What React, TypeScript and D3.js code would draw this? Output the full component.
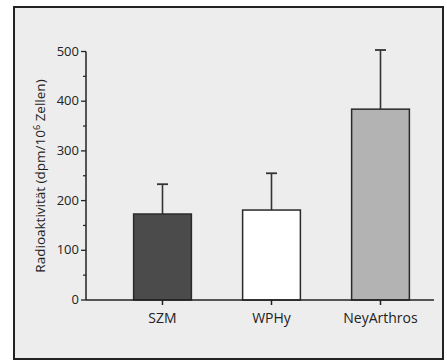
import React, { useEffect, useRef } from "react";
import * as d3 from "d3";

const categories = ["SZM", "WPHy", "NeyArthros"];
const means = [173, 181, 384];
const errors = [60, 74, 119];
const barColors = ["#4b4b4b", "#ffffff", "#b3b3b3"];
const yTicks = [0, 100, 200, 300, 400, 500];
const yMinorTicks = [50, 150, 250, 350, 450];

export default function App() {
  const svgRef = useRef<SVGSVGElement | null>(null);

  useEffect(() => {
    const svg = d3.select(svgRef.current);
    svg.selectAll("*").remove();

    const font = "'Open Sans', Lato, sans-serif";

    // page background + frame
    svg.append("rect").attr("width", 447).attr("height", 361).attr("fill", "#ffffff");
    svg
      .append("rect")
      .attr("x", 14)
      .attr("y", 7)
      .attr("width", 429)
      .attr("height", 352)
      .attr("fill", "#ededed")
      .attr("stroke", "#222")
      .attr("stroke-width", 2);

    const y = d3.scaleLinear().domain([0, 500]).range([300, 51.5]);
    const x = d3
      .scaleBand()
      .domain(categories)
      .range([108, 435])
      .paddingInner(0.47)
      .paddingOuter(0.235);

    const g = svg.append("g");

    // error bars (drawn first, bar covers lower part)
    categories.forEach((c, i) => {
      const cx = x(c)! + x.bandwidth() / 2;
      g.append("line")
        .attr("x1", cx)
        .attr("x2", cx)
        .attr("y1", y(means[i]))
        .attr("y2", y(means[i] + errors[i]))
        .attr("stroke", "#333")
        .attr("stroke-width", 1.6);
      g.append("line")
        .attr("x1", cx - 5.5)
        .attr("x2", cx + 5.5)
        .attr("y1", y(means[i] + errors[i]))
        .attr("y2", y(means[i] + errors[i]))
        .attr("stroke", "#333")
        .attr("stroke-width", 1.8);
    });

    g.selectAll(".bar")
      .data(categories)
      .enter()
      .append("rect")
      .attr("x", (c) => x(c)!)
      .attr("y", (c, i) => y(means[i]))
      .attr("width", x.bandwidth())
      .attr("height", (c, i) => y(0) - y(means[i]))
      .attr("fill", (c, i) => barColors[i])
      .attr("stroke", "#2a2a2a")
      .attr("stroke-width", 1.5);

    // x axis
    g.append("line")
      .attr("x1", 86)
      .attr("x2", 434)
      .attr("y1", y(0))
      .attr("y2", y(0))
      .attr("stroke", "#222")
      .attr("stroke-width", 1.5);
    categories.forEach((c) => {
      const cx = x(c)! + x.bandwidth() / 2;
      g.append("line")
        .attr("x1", cx)
        .attr("x2", cx)
        .attr("y1", y(0))
        .attr("y2", y(0) + 5)
        .attr("stroke", "#222")
        .attr("stroke-width", 1.5);
      g.append("text")
        .attr("x", cx)
        .attr("y", 323)
        .attr("text-anchor", "middle")
        .attr("font-family", font)
        .attr("font-size", 14)
        .attr("fill", "#222")
        .text(c);
    });

    // y axis
    g.append("line")
      .attr("x1", 86)
      .attr("x2", 86)
      .attr("y1", y(0))
      .attr("y2", y(500))
      .attr("stroke", "#222")
      .attr("stroke-width", 1.5);
    yTicks.forEach((t) => {
      g.append("line")
        .attr("x1", 81)
        .attr("x2", 86)
        .attr("y1", y(t))
        .attr("y2", y(t))
        .attr("stroke", "#222")
        .attr("stroke-width", 1.3);
      g.append("text")
        .attr("x", 79)
        .attr("y", y(t))
        .attr("dy", "0.32em")
        .attr("text-anchor", "end")
        .attr("font-family", font)
        .attr("font-size", 13)
        .attr("fill", "#222")
        .text(t);
    });
    yMinorTicks.forEach((t) => {
      g.append("line")
        .attr("x1", 83)
        .attr("x2", 86)
        .attr("y1", y(t))
        .attr("y2", y(t))
        .attr("stroke", "#222")
        .attr("stroke-width", 1.2);
    });

    // y label
    const label = g
      .append("text")
      .attr("transform", "translate(45,176) rotate(-90)")
      .attr("text-anchor", "middle")
      .attr("font-family", font)
      .attr("font-size", 13.5)
      .attr("fill", "#222");
    label.append("tspan").text("Radioaktivität (dpm/10");
    label.append("tspan").attr("dy", -5).attr("font-size", 9).text("6");
    label.append("tspan").attr("dy", 5).text(" Zellen)");
  }, []);

  return (
    <div style={{ position: "absolute", left: 0, top: 0 }}>
      <svg ref={svgRef} width={447} height={361} style={{ display: "block" }} />
    </div>
  );
}
